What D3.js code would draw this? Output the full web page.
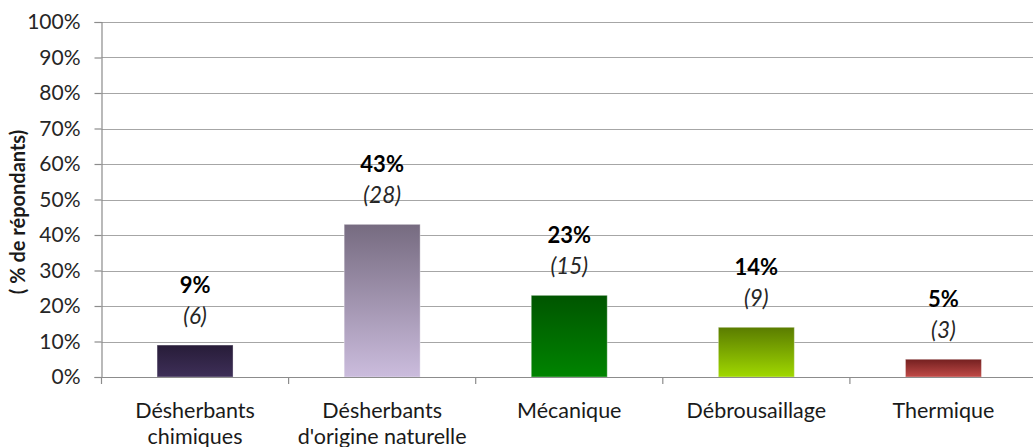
<!DOCTYPE html>
<html>
<head>
<meta charset="utf-8">
<script src="https://cdn.jsdelivr.net/npm/d3@7"></script>
<style>
  html, body { margin: 0; padding: 0; background: #fff; }
  svg { display: block; font-family: Lato, "Open Sans", sans-serif; }
</style>
</head>
<body>
<svg id="chart" width="1033" height="447"></svg>
<script>
const categories = [["Désherbants", "chimiques"], ["Désherbants", "d'origine naturelle"], ["Mécanique"], ["Débrousaillage"], ["Thermique"]];
const percents = [9, 43, 23, 14, 5];
const counts = [6, 28, 15, 9, 3];
const yTicks = [0, 10, 20, 30, 40, 50, 60, 70, 80, 90, 100];
const barColors = [["#271c38", "#3e2f58"], ["#766b80", "#cbbcdd"], ["#005500", "#008400"], ["#5a7c00", "#a0d800"], ["#742020", "#c04a47"]];
const yTitle = "( % de répondants)";

(function () {
const svg = d3.select("#chart");
const mLeft = 101.5, mRight = 1037, mTop = 22, mBottom = 377;
const keys = categories.map((c, i) => "c" + i);

const x = d3.scaleBand().domain(keys).range([mLeft, mRight]).paddingInner(0.594).paddingOuter(0.297);
const y = d3.scaleLinear().domain([0, 100]).range([mBottom, mTop]);

const defs = svg.append("defs");
barColors.forEach((c, i) => {
  const g = defs.append("linearGradient").attr("id", "g" + i).attr("x1", 0).attr("y1", 0).attr("x2", 0).attr("y2", 1);
  g.append("stop").attr("offset", "0%").attr("stop-color", c[0]);
  g.append("stop").attr("offset", "100%").attr("stop-color", c[1]);
});

// gridlines
svg.append("g").selectAll("line").data(yTicks.filter(d => d > 0)).join("line")
  .attr("x1", mLeft).attr("x2", 1033)
  .attr("y1", d => Math.round(y(d)) + 0.5).attr("y2", d => Math.round(y(d)) + 0.5)
  .attr("stroke", "#a6a6a6").attr("stroke-width", 1.2);

// y axis
const yAxis = svg.append("g").attr("transform", `translate(${mLeft},0)`)
  .call(d3.axisLeft(y).tickValues(yTicks).tickFormat(d => d + "%").tickSize(7).tickPadding(14));
yAxis.select(".domain").attr("stroke", "#8c8c8c").attr("stroke-width", 1.2);
yAxis.selectAll(".tick line").attr("stroke", "#8c8c8c").attr("stroke-width", 1.2);
yAxis.selectAll(".tick text").attr("font-size", 21).attr("fill", "#262626").attr("font-family", "Lato, sans-serif");

// bars
svg.append("g").selectAll("rect").data(percents).join("rect")
  .attr("x", (d, i) => x(keys[i]))
  .attr("width", x.bandwidth())
  .attr("y", d => y(d))
  .attr("height", d => y(0) - y(d))
  .attr("fill", (d, i) => `url(#g${i})`)
  .attr("stroke", "rgba(255,255,255,0.35)").attr("stroke-width", 1);

// x axis
const xAxis = svg.append("g").attr("transform", `translate(0,${mBottom})`)
  .call(d3.axisBottom(x).tickSize(0).tickFormat(""));
xAxis.select(".domain").attr("stroke", "#8c8c8c").attr("stroke-width", 1.2).attr("d", `M${mLeft},0.5H1033`);
const step = x.step();
svg.append("g").selectAll("line").data(d3.range(keys.length)).join("line")
  .attr("x1", (d, i) => x(keys[i]) - step * 0.297).attr("x2", (d, i) => x(keys[i]) - step * 0.297)
  .attr("y1", mBottom).attr("y2", mBottom + 7)
  .attr("stroke", "#8c8c8c").attr("stroke-width", 1.2);

// category labels
const labG = svg.append("g");
categories.forEach((lines, i) => {
  const cx = x(keys[i]) + x.bandwidth() / 2;
  const t = labG.append("text").attr("text-anchor", "middle").attr("font-size", 21.5).attr("fill", "#1a1a1a")
    .attr("x", cx).attr("y", 418);
  lines.forEach((ln, j) => t.append("tspan").attr("x", cx).attr("dy", j === 0 ? 0 : 26).text(ln));
});

// value labels
const valG = svg.append("g");
percents.forEach((p, i) => {
  const cx = x(keys[i]) + x.bandwidth() / 2;
  valG.append("text").attr("x", cx).attr("y", y(p) - 52).attr("text-anchor", "middle")
    .attr("font-size", 22).attr("font-weight", "bold").attr("fill", "#000").text(p + "%");
  valG.append("text").attr("x", cx).attr("y", y(p) - 21).attr("text-anchor", "middle")
    .attr("font-size", 22.5).attr("font-style", "italic").attr("fill", "#262626").text("(" + counts[i] + ")");
});

// y title
svg.append("text").attr("transform", `translate(25,212) rotate(-90)`)
  .attr("text-anchor", "middle").attr("font-size", 20).attr("font-weight", "bold").attr("fill", "#1a1a1a")
  .text(yTitle);
})();
</script>
</body>
</html>
